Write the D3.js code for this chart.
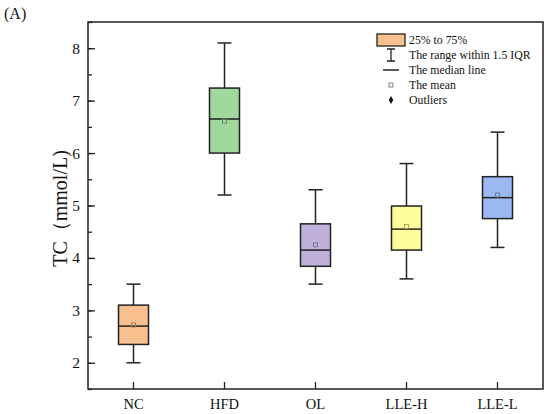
<!DOCTYPE html>
<html>
<head>
<meta charset="utf-8">
<script src="https://cdn.jsdelivr.net/npm/d3@7"></script>
<style>
  body { margin: 0; background: #fff; }
  text { font-family: "Liberation Serif", "Times New Roman", serif; fill: #111; }
</style>
</head>
<body>
<div id="chart"></div>
<script>
const groups = ["NC", "HFD", "OL", "LLE-H", "LLE-L"];
const whiskerLow = [2.0, 5.2, 3.5, 3.6, 4.2];
const q1 = [2.35, 6.0, 3.84, 4.15, 4.75];
const median = [2.7, 6.65, 4.15, 4.55, 5.15];
const mean = [2.72, 6.61, 4.25, 4.6, 5.2];
const q3 = [3.1, 7.24, 4.65, 4.99, 5.55];
const whiskerHigh = [3.5, 8.1, 5.3, 5.8, 6.4];
const fills = ["#f9c08f", "#a0d99b", "#bfb1d9", "#fdfd9c", "#9ab9f0"];
const yTicks = [2, 3, 4, 5, 6, 7, 8];
const legendLabels = ["25% to 75%", "The range within 1.5 IQR", "The median line", "The mean", "Outliers"];

const width = 550;
const height = 414;
const margin = { top: 22, right: 7, bottom: 25, left: 88 };

const svg = d3
  .select("#chart")
  .append("svg")
  .attr("width", width)
  .attr("height", height);

const x = d3
  .scaleBand()
  .domain(groups)
  .range([margin.left, width - margin.right]);

const y = d3
  .scaleLinear()
  .domain([1.5, 8.5])
  .range([height - margin.bottom, margin.top]);

const data = groups.map((g, i) => ({
  group: g,
  lo: whiskerLow[i],
  q1: q1[i],
  med: median[i],
  mean: mean[i],
  q3: q3[i],
  hi: whiskerHigh[i],
  fill: fills[i],
}));

// Axes (ticks inward)
svg
  .append("g")
  .attr("transform", `translate(${margin.left},0)`)
  .call(d3.axisLeft(y).tickValues(d3.range(1.5, 8.51, 0.5)).tickSize(-4).tickFormat(""))
  .call((g) => g.select(".domain").remove())
  .selectAll("line")
  .attr("stroke", "#222")
  .attr("stroke-width", 1.3);

svg
  .append("g")
  .attr("transform", `translate(${margin.left},0)`)
  .call(d3.axisLeft(y).tickValues(yTicks).tickSize(-7).tickPadding(8).tickFormat(d3.format("d")))
  .call((g) => g.select(".domain").remove())
  .call((g) => g.selectAll("line").attr("stroke", "#222").attr("stroke-width", 1.3))
  .selectAll("text")
  .attr("font-size", "15.5px")
  .attr("font-family", "Liberation Serif");

svg
  .append("g")
  .attr("transform", `translate(0,${height - margin.bottom})`)
  .call(d3.axisBottom(x).tickSize(-7).tickPadding(10))
  .call((g) => g.select(".domain").remove())
  .call((g) => g.selectAll("line").attr("stroke", "#222").attr("stroke-width", 1.3))
  .selectAll("text")
  .attr("font-size", "14.5px")
  .attr("font-family", "Liberation Serif");

// Frame
svg
  .append("rect")
  .attr("x", margin.left)
  .attr("y", margin.top)
  .attr("width", width - margin.left - margin.right)
  .attr("height", height - margin.top - margin.bottom)
  .attr("fill", "none")
  .attr("stroke", "#222")
  .attr("stroke-width", 1.5);

// Boxes
const boxW = 30;
const capW = 14;
const boxes = svg
  .append("g")
  .selectAll("g")
  .data(data)
  .join("g")
  .attr("transform", (d) => `translate(${x(d.group) + x.bandwidth() / 2},0)`);

boxes
  .append("line")
  .attr("y1", (d) => y(d.lo))
  .attr("y2", (d) => y(d.hi))
  .attr("stroke", "#222")
  .attr("stroke-width", 1.5);

boxes
  .selectAll(".cap")
  .data((d) => [d.lo, d.hi])
  .join("line")
  .attr("class", "cap")
  .attr("x1", -capW / 2)
  .attr("x2", capW / 2)
  .attr("y1", (v) => y(v))
  .attr("y2", (v) => y(v))
  .attr("stroke", "#222")
  .attr("stroke-width", 1.5);

boxes
  .append("rect")
  .attr("x", -boxW / 2)
  .attr("width", boxW)
  .attr("y", (d) => y(d.q3))
  .attr("height", (d) => y(d.q1) - y(d.q3))
  .attr("fill", (d) => d.fill)
  .attr("stroke", "#222")
  .attr("stroke-width", 1.5);

boxes
  .append("line")
  .attr("x1", -boxW / 2)
  .attr("x2", boxW / 2)
  .attr("y1", (d) => y(d.med))
  .attr("y2", (d) => y(d.med))
  .attr("stroke", "#222")
  .attr("stroke-width", 1.5);

boxes
  .append("rect")
  .attr("x", -2)
  .attr("y", (d) => y(d.mean) - 2)
  .attr("width", 4)
  .attr("height", 4)
  .attr("fill", "none")
  .attr("stroke", (d) => d3.color(d.fill).darker(1.3))
  .attr("stroke-width", 0.9);

// Legend
const legend = svg.append("g").attr("transform", "translate(391,0)");
const rowY = [40, 55, 70, 85, 100];

legend
  .append("rect")
  .attr("x", -14)
  .attr("y", rowY[0] - 6)
  .attr("width", 28)
  .attr("height", 12)
  .attr("fill", fills[0])
  .attr("stroke", "#222")
  .attr("stroke-width", 1.3);

legend
  .append("path")
  .attr("d", `M-4,${rowY[1] - 6}H4M0,${rowY[1] - 6}V${rowY[1] + 6}M-4,${rowY[1] + 6}H4`)
  .attr("stroke", "#222")
  .attr("stroke-width", 1.3)
  .attr("fill", "none");

legend
  .append("line")
  .attr("x1", -8)
  .attr("x2", 8)
  .attr("y1", rowY[2])
  .attr("y2", rowY[2])
  .attr("stroke", "#222")
  .attr("stroke-width", 1.5);

legend
  .append("rect")
  .attr("x", -2)
  .attr("y", rowY[3] - 2)
  .attr("width", 4)
  .attr("height", 4)
  .attr("fill", "none")
  .attr("stroke", "#777")
  .attr("stroke-width", 0.9);

legend
  .append("path")
  .attr("d", d3.symbol(d3.symbolDiamond, 18)())
  .attr("transform", `translate(0,${rowY[4]})`)
  .attr("fill", "#111");

legend
  .selectAll(".lbl")
  .data(legendLabels)
  .join("text")
  .attr("class", "lbl")
  .attr("x", 18)
  .attr("y", (d, i) => rowY[i])
  .attr("dy", "0.35em")
  .attr("font-size", "11.8px")
  .text((d) => d);

// Labels
svg
  .append("text")
  .attr("transform", `translate(67,${(margin.top + height - margin.bottom) / 2 + 3}) rotate(-90)`)
  .attr("text-anchor", "middle")
  .attr("font-size", "20px")
  .text("TC（mmol/L)");

svg
  .append("text")
  .attr("x", 4)
  .attr("y", 19)
  .attr("font-size", "16px")
  .text("(A)");
</script>
</body>
</html>
